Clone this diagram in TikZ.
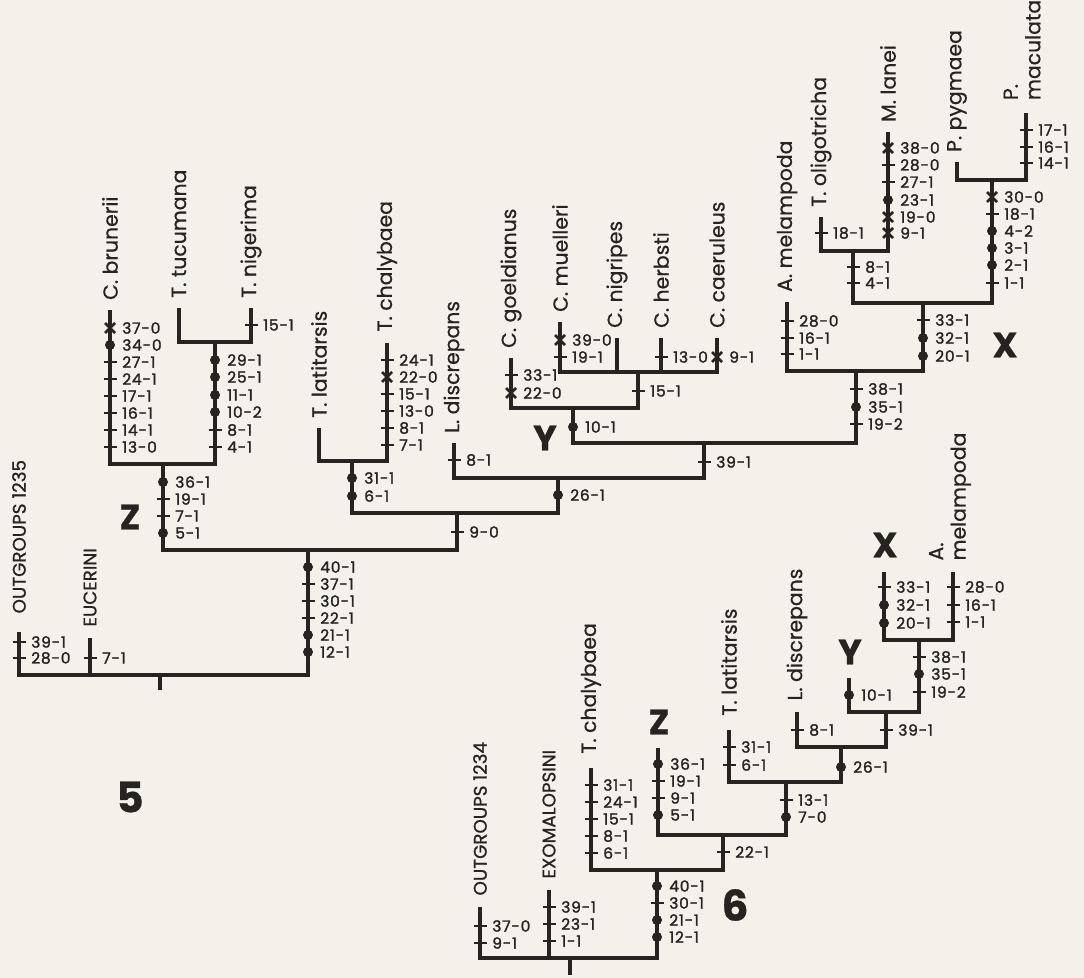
\documentclass[tikz,border=0pt]{standalone}
\usepackage{fontspec}
\setmainfont{Poppins}[FakeBold=0.6]
\newfontfamily\chfont{Poppins}[LetterSpace=5, FakeBold=1.6]
\newfontfamily\grpfont{Poppins}[FakeBold=1.0]
\usetikzlibrary{calc}
\definecolor{paper}{RGB}{243,241,233}
\definecolor{ink}{RGB}{38,36,33}

% character marks: t = tick, d = dot, c = cross
\tikzset{
  pics/chr/.style 2 args={code={
    \if#1t\draw[tickln] (-6.5,0) -- (6.5,0);\fi
    \if#1d\fill[ink] (0,0) circle[radius=5];\fi
    \if#1c\draw[crossln] (-5,-5) -- (5,5) (-5,5) -- (5,-5);\fi
    \node[chlab] at (12,0) {#2};}}
}
\newcommand\chars[2]{\foreach \y/\k/\t in {#2}{\pic at (#1 |- 0,\y) {chr={\k}{\t}};}}

\begin{document}
\begin{tikzpicture}[
  x=0.025cm, y=-0.025cm,
  br/.style={draw=ink, line width=2.6pt},
  tickln/.style={draw=ink, line width=2pt},
  crossln/.style={draw=ink, line width=1.8pt},
  chlab/.style={anchor=west, inner sep=0pt, text=ink, font=\chfont\fontsize{11}{12}\selectfont},
  taxon/.style={rotate=90, anchor=west, inner sep=0pt, text=ink, align=left, font=\fontsize{14.5}{16}\selectfont},
  grouplbl/.style={taxon, font=\grpfont\fontsize{13}{15}\selectfont},
  cladelbl/.style={text=ink, inner sep=0pt, font=\fontsize{25}{26}\selectfont\bfseries},
  fignum/.style={text=ink, inner sep=0pt, font=\fontsize{30}{32}\selectfont\bfseries}
]
  \useasboundingbox (0,0) rectangle (1084,978);
  \fill[paper] (0,0) rectangle (1084,978);

  % Figure 5: tips
  \coordinate (out5) at (19,632);
  \coordinate (euc5) at (90,638);
  \coordinate (bru) at (110,310);
  \coordinate (tuc) at (179,308);
  \coordinate (nig) at (251,308);
  \coordinate (lat5) at (319,428);
  \coordinate (cha5) at (387,343);
  \coordinate (dis5) at (454,443);
  \coordinate (goe) at (511,358);
  \coordinate (mue) at (560,322);
  \coordinate (ngr) at (617,338);
  \coordinate (her) at (661,338);
  \coordinate (cae) at (717,338);
  \coordinate (mel5) at (787,302);
  \coordinate (oli) at (821,217);
  \coordinate (lan) at (888,132);
  \coordinate (pyg) at (957,162);
  \coordinate (mac) at (1026,113);

  % Figure 5: inner nodes
  \coordinate (r5) at (160,675);
  \coordinate (r5b) at (160,690);
  \coordinate (in5) at (308,550);
  \coordinate (z5) at (163,464);
  \coordinate (tn) at (215,342);
  \coordinate (a5) at (457,513);
  \coordinate (tt) at (352,461);
  \coordinate (ld5) at (558,478);
  \coordinate (b5) at (704,443);
  \coordinate (y5) at (573,408);
  \coordinate (c15) at (638,372);
  \coordinate (m5) at (856,371);
  \coordinate (x5) at (923,303);
  \coordinate (ol) at (853,251);
  \coordinate (pp) at (992,180);

  % Figure 5: branches
  \draw[br] (out5) |- (r5) -| (in5);
  \draw[br] (euc5) -- (euc5 |- r5);
  \draw[br] (r5) -- (r5b);
  \draw[br] (z5) |- (in5) -| (a5);
  \draw[br] (bru) |- (z5) -| (tn);
  \draw[br] (tuc) |- (tn) -| (nig);
  \draw[br] (tt) |- (a5) -| (ld5);
  \draw[br] (lat5) |- (tt) -| (cha5);
  \draw[br] (dis5) |- (ld5) -| (b5);
  \draw[br] (y5) |- (b5) -| (m5);
  \draw[br] (goe) |- (y5) -| (c15);
  \draw[br] (mue) |- (c15) -| (cae);
  \draw[br] (ngr) -- (ngr |- c15);
  \draw[br] (her) -- (her |- c15);
  \draw[br] (mel5) |- (m5) -| (x5);
  \draw[br] (ol) |- (x5) -| (pp);
  \draw[br] (oli) |- (ol) -| (lan);
  \draw[br] (pyg) |- (pp) -| (mac);

  % Figure 5: characters
  \chars{out5}{642/t/39-1, 658/t/28-0}
  \chars{euc5}{658/t/7-1}
  \chars{in5}{567/d/40-1, 584/t/37-1, 601/t/30-1, 618/t/22-1, 635/d/21-1, 652/d/12-1}
  \chars{z5}{482/d/36-1, 499/t/19-1, 516/t/7-1, 533/d/5-1}
  \chars{bru}{328/c/37-0, 345/d/34-0, 362/t/27-1, 379/t/24-1, 396/t/17-1, 413/t/16-1, 430/t/14-1, 447/t/13-0}
  \chars{tn}{360/d/29-1, 377/d/25-1, 395/d/11-1, 412/d/10-2, 430/t/8-1, 447/t/4-1}
  \chars{nig}{325/t/15-1}
  \chars{a5}{532/t/9-0}
  \chars{tt}{478/d/31-1, 496/d/6-1}
  \chars{cha5}{360/t/24-1, 377/c/22-0, 394/t/15-1, 411/t/13-0, 428/t/8-1, 445/t/7-1}
  \chars{ld5}{495/d/26-1}
  \chars{dis5}{460/t/8-1}
  \chars{b5}{462/t/39-1}
  \chars{y5}{427/d/10-1}
  \chars{goe}{375/t/33-1, 393/c/22-0}
  \chars{c15}{391/t/15-1}
  \chars{mue}{340/c/39-0, 357/t/19-1}
  \chars{her}{357/t/13-0}
  \chars{cae}{357/c/9-1}
  \chars{m5}{389/t/38-1, 407/d/35-1, 424/t/19-2}
  \chars{mel5}{321/t/28-0, 338/t/16-1, 354/t/1-1}
  \chars{x5}{320/t/33-1, 338/d/32-1, 356/d/20-1}
  \chars{ol}{267/t/8-1, 283/t/4-1}
  \chars{oli}{233/t/18-1}
  \chars{lan}{148/c/38-0, 165/t/28-0, 182/t/27-1, 200/d/23-1, 217/c/19-0, 233/c/9-1}
  \chars{pp}{197/c/30-0, 214/t/18-1, 231/d/4-2, 248/d/3-1, 265/d/2-1, 283/t/1-1}
  \chars{mac}{130/t/17-1, 147/t/16-1, 163/t/14-1}

  % Figure 5: labels
  \node[grouplbl] (l-out5) at ([yshift=13pt]out5) {OUTGROUPS 1235};
  \node[grouplbl] (l-euc5) at ([yshift=8pt]euc5) {EUCERINI};
  \node[taxon] (l-bru) at ([yshift=7pt]bru) {C. brunerii};
  \node[taxon] (l-tuc) at ([yshift=7pt]tuc) {T. tucumana};
  \node[taxon] (l-nig) at ([yshift=7pt]nig) {T. nigerima};
  \node[taxon] (l-lat5) at ([yshift=7pt]lat5) {T. latitarsis};
  \node[taxon] (l-cha5) at ([yshift=8pt]cha5) {T. chalybaea};
  \node[taxon] (l-dis5) at ([yshift=7pt]dis5) {L. discrepans};
  \node[taxon] (l-goe) at ([yshift=7pt]goe) {C. goeldianus};
  \node[taxon] (l-mue) at ([yshift=7pt]mue) {C. muelleri};
  \node[taxon] (l-ngr) at ([yshift=7pt]ngr) {C. nigripes};
  \node[taxon] (l-her) at ([yshift=7pt]her) {C. herbsti};
  \node[taxon] (l-cae) at ([yshift=7pt]cae) {C. caeruleus};
  \node[taxon] (l-mel5) at ([yshift=7pt]mel5) {A. melampoda};
  \node[taxon] (l-oli) at ([yshift=7pt]oli) {T. oligotricha};
  \node[taxon] (l-lan) at ([yshift=7pt]lan) {M. lanei};
  \node[taxon] (l-pyg) at ([yshift=7pt]pyg) {P. pygmaea};
  \node[taxon] (l-mac) at ([xshift=-0.1cm, yshift=9pt]mac) {P.\\maculata};
  \node[cladelbl] (z5lbl) at (130,517) {Z};
  \node[cladelbl] (y5lbl) at (545,438) {Y};
  \node[cladelbl] (x5lbl) at (1005,345) {X};
  \node[fignum] (fig5) at (130,797) {5};

  % Figure 6: tips
  \coordinate (out6) at (480,907);
  \coordinate (exo) at (549,890);
  \coordinate (cha6) at (591,768);
  \coordinate (z6) at (658,748);
  \coordinate (lat6) at (729,730);
  \coordinate (dis6) at (797,712);
  \coordinate (y6) at (849,678);
  \coordinate (x6) at (884,572);
  \coordinate (mel6) at (953,572);

  % Figure 6: inner nodes
  \coordinate (r6) at (570,958);
  \coordinate (r6b) at (570,975);
  \coordinate (in6) at (657,870);
  \coordinate (b22) at (723,835);
  \coordinate (b13) at (786,782);
  \coordinate (b26) at (841,747);
  \coordinate (b39) at (886,712);
  \coordinate (m6) at (919,640);

  % Figure 6: branches
  \draw[br] (out6) |- (r6) -| (in6);
  \draw[br] (exo) -- (exo |- r6);
  \draw[br] (r6) -- (r6b);
  \draw[br] (cha6) |- (in6) -| (b22);
  \draw[br] (z6) |- (b22) -| (b13);
  \draw[br] (lat6) |- (b13) -| (b26);
  \draw[br] (dis6) |- (b26) -| (b39);
  \draw[br] (y6) |- (b39) -| (m6);
  \draw[br] (x6) |- (m6) -| (mel6);

  % Figure 6: characters
  \chars{out6}{926/t/37-0, 943/t/9-1}
  \chars{exo}{907/t/39-1, 924/t/23-1, 941/t/1-1}
  \chars{in6}{886/d/40-1, 903/t/30-1, 920/d/21-1, 937/d/12-1}
  \chars{cha6}{785/t/31-1, 802/t/24-1, 819/t/15-1, 836/t/8-1, 853/t/6-1}
  \chars{b22}{852/t/22-1}
  \chars{z6}{764/d/36-1, 781/t/19-1, 798/t/9-1, 815/d/5-1}
  \chars{b13}{800/t/13-1, 817/d/7-0}
  \chars{lat6}{747/t/31-1, 765/t/6-1}
  \chars{b26}{767/d/26-1}
  \chars{dis6}{730/t/8-1}
  \chars{b39}{730/t/39-1}
  \chars{y6}{695/d/10-1}
  \chars{m6}{657/t/38-1, 674/d/35-1, 692/t/19-2}
  \chars{x6}{587/t/33-1, 605/d/32-1, 623/d/20-1}
  \chars{mel6}{587/t/28-0, 605/t/16-1, 622/t/1-1}

  % Figure 6: labels
  \node[grouplbl] (l-out6) at ([yshift=8pt]out6) {OUTGROUPS 1234};
  \node[grouplbl] (l-exo) at ([yshift=8pt]exo) {EXOMALOPSINI};
  \node[taxon] (l-cha6) at ([yshift=10pt]cha6) {T. chalybaea};
  \node[taxon] (l-lat6) at ([yshift=10pt]lat6) {T. latitarsis};
  \node[taxon] (l-dis6) at ([yshift=8pt]dis6) {L. discrepans};
  \node[taxon] (l-mel6) at ([xshift=-0.075cm, yshift=8pt]mel6) {A.\\melampoda};
  \node[cladelbl] (z6lbl) at (659,722) {Z};
  \node[cladelbl] (y6lbl) at (850,652) {Y};
  \node[cladelbl] (x6lbl) at (885,545) {X};
  \node[fignum] (fig6) at (735,905) {6};
\end{tikzpicture}
\end{document}
